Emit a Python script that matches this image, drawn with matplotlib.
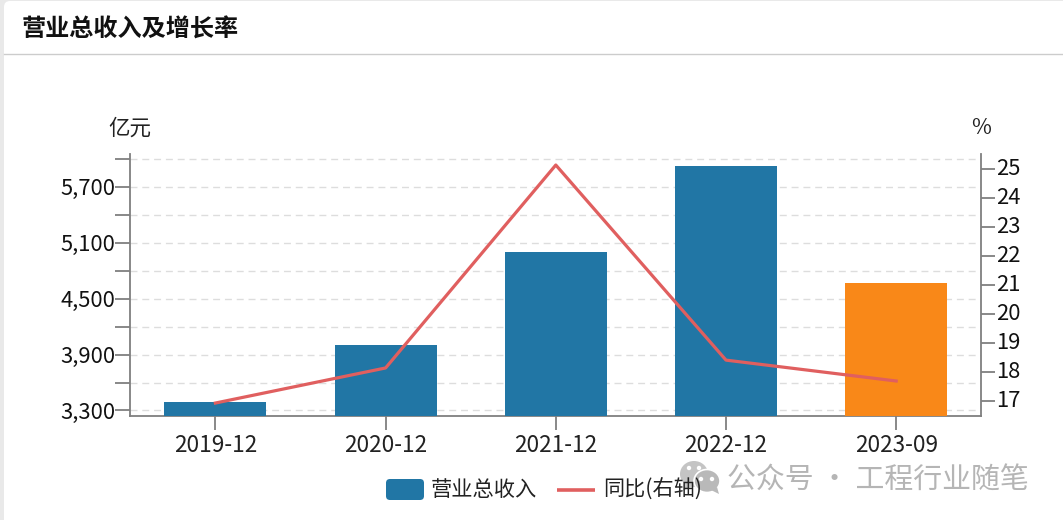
import matplotlib
matplotlib.use("Agg")
import matplotlib.pyplot as plt
from matplotlib.patches import Ellipse, FancyBboxPatch, Polygon, Circle
from matplotlib.transforms import ScaledTranslation

plt.rcParams["font.family"] = ["Noto Sans CJK SC", "DejaVu Sans"]

# Data
periods = ["2019-12", "2020-12", "2021-12", "2022-12", "2023-09"]
revenue = [3386, 4007, 5003, 5924, 4671]
growth = [16.93, 18.14, 25.14, 18.41, 17.69]
bar_colors = ["#2176a5", "#2176a5", "#2176a5", "#2176a5", "#f98818"]
left_major = [3300, 3900, 4500, 5100, 5700]
left_minor = [3600, 4200, 4800, 5400, 6000]
right_ticks = [17, 18, 19, 20, 21, 22, 23, 24, 25]

W, H = 1063, 520
AXIS_GRAY = "#7f7f7f"
TEXT = "#222222"

fig = plt.figure(figsize=(W / 100, H / 100), dpi=100, facecolor="#e9e9e9")

# page background in pixel coordinates
bg = fig.add_axes([0, 0, 1, 1], zorder=0)
bg.set_xlim(0, W)
bg.set_ylim(H, 0)
bg.axis("off")
bg.add_patch(FancyBboxPatch((4, 1), W + 20, H + 20, boxstyle="round,pad=0,rounding_size=6",
                            fc="white", ec="none"))
bg.plot([4, W], [54, 54], color="#cccccc", lw=1)
bg.text(22, 30, "营业总收入及增长率", fontsize=17.4, fontweight="bold", color="#111111", va="center")
bg.text(130, 129, "亿元", fontsize=15.5, color=TEXT, ha="center", va="center")
bg.text(981.5, 128, "%", fontsize=15.5, color=TEXT, ha="center", va="center")

# plot area
left, right, top, bottom = 130.3, 981.3, 154, 415.5
ax = fig.add_axes([left / W, 1 - bottom / H, (right - left) / W, (bottom - top) / H], zorder=1)
ax.patch.set_alpha(0)
ax.bar(range(len(periods)), revenue, width=0.6, color=bar_colors, zorder=3)
ax.set_xlim(-0.5, 4.5)
ax.set_ylim(3246, 6053)
ax.set_xticks(range(len(periods)))
ax.set_xticklabels(periods, fontsize=16.3, color=TEXT)
ax.set_yticks(left_major)
ax.set_yticklabels([f"{v:,}" for v in left_major], fontsize=15.8, color="#111111", va="center")
ax.set_yticks(left_minor, minor=True)
ax.tick_params(axis="y", which="both", length=11, width=1.3, color=AXIS_GRAY, pad=0)
ax.tick_params(axis="x", length=10, width=1.3, color=AXIS_GRAY, pad=3.5)
ax.grid(axis="y", which="both", color="#dddddd", linestyle=(0, (5, 3.5)), lw=1, zorder=1)
ax.set_axisbelow(True)
ax.spines["top"].set_visible(False)
ax.spines["right"].set_visible(False)
for side in ["left", "bottom"]:
    ax.spines[side].set_color(AXIS_GRAY)
    ax.spines[side].set_linewidth(1.3)
# the left labels sit slightly lower than the tick marks
for label in ax.get_yticklabels():
    label.set_transform(label.get_transform() + ScaledTranslation(0, -1.5 / 72, fig.dpi_scale_trans))

ax2 = ax.twinx()
ax2.plot(range(len(periods)), growth, color="#e05f5f", lw=2.3, zorder=4)
ax2.set_ylim(16.5, 25.52)
ax2.set_yticks(right_ticks)
ax2.set_yticklabels([str(v) for v in right_ticks], fontsize=15.8, color="#111111", va="center")
ax2.tick_params(axis="y", length=10, width=1.3, color=AXIS_GRAY, pad=1)
ax2.spines["top"].set_visible(False)
ax2.spines["left"].set_visible(False)
ax2.spines["bottom"].set_visible(False)
ax2.spines["right"].set_color(AXIS_GRAY)
ax2.spines["right"].set_linewidth(1.3)

# legend and watermark on top, pixel coordinates
over = fig.add_axes([0, 0, 1, 1], zorder=2)
over.set_xlim(0, W)
over.set_ylim(H, 0)
over.axis("off")
over.add_patch(FancyBboxPatch((386, 479), 38, 21, boxstyle="round,pad=0,rounding_size=4",
                              fc="#2176a5", ec="none"))
over.text(431, 490, "营业总收入", fontsize=15.3, color=TEXT, va="center")
over.plot([557, 595], [489.5, 489.5], color="#e05f5f", lw=2.6, solid_capstyle="butt")
over.text(603, 490, "同比(右轴)", fontsize=15.2, color=TEXT, va="center")

over.add_patch(Ellipse((694, 474), 28, 26, fc="#c4c4c4", ec="none"))
over.add_patch(Polygon([[684, 482], [683, 491], [692, 486]], fc="#c4c4c4", ec="none"))
over.add_patch(Ellipse((707, 481), 26, 23, fc="#b9b9b9", ec="white", lw=1.2))
over.add_patch(Polygon([[711, 490], [719, 494], [717, 487]], fc="#b9b9b9", ec="none"))
for cx, cy in [(689, 468), (699, 468), (701, 479), (712, 479)]:
    over.add_patch(Circle((cx, cy), 2.2, fc="white", ec="none"))
over.text(1029, 481, "公众号 · 工程行业随笔", fontsize=20.8, color="#b5b5b5", ha="right", va="center")

fig.savefig("out.png", dpi=100, facecolor=fig.get_facecolor())
